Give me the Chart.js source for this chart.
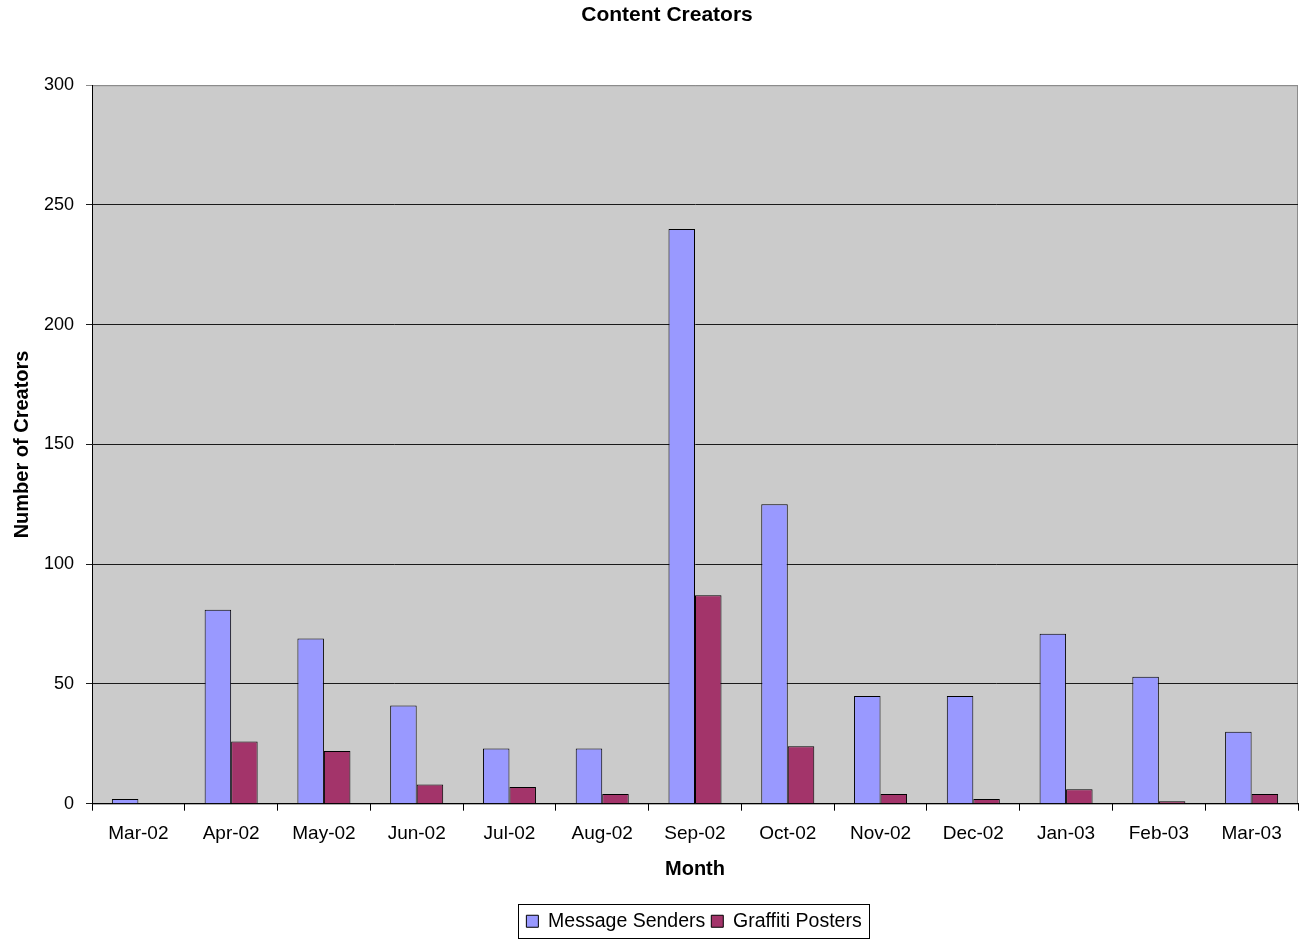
<!DOCTYPE html>
<html>
<head>
<meta charset="utf-8">
<script src="https://cdn.jsdelivr.net/npm/chart.js@4/dist/chart.umd.min.js"></script>
<style>
  html, body { margin: 0; padding: 0; background: #fff; }
  #wrap { width: 1301px; height: 939px; }
</style>
</head>
<body>
<div id="wrap"><canvas id="chart" width="1301" height="939"></canvas></div>
<script>
const months = ['Mar-02', 'Apr-02', 'May-02', 'Jun-02', 'Jul-02', 'Aug-02', 'Sep-02',
                'Oct-02', 'Nov-02', 'Dec-02', 'Jan-03', 'Feb-03', 'Mar-03'];
const messageSenders = [2, 81, 69, 41, 23, 23, 240, 125, 45, 45, 71, 53, 30];
const graffitiPosters = [0, 26, 22, 8, 7, 4, 87, 24, 4, 2, 6, 1, 4];
const yTicks = [0, 50, 100, 150, 200, 250, 300];

const FONT = "'Liberation Sans', Arial, sans-serif";

// fond gris de la zone de tracé + bordure
const plotArea = {
  id: 'plotArea',
  beforeDraw(chart) {
    const a = chart.chartArea, ctx = chart.ctx;
    ctx.save();
    ctx.fillStyle = '#cbcbcb';
    ctx.fillRect(a.left, a.top, a.right - a.left, a.bottom - a.top);
    ctx.strokeStyle = '#8c8c8c';
    ctx.lineWidth = 1;
    ctx.strokeRect(a.left + 0.5, a.top + 0.5, a.right - a.left - 1, a.bottom - a.top);
    ctx.restore();
  }
};

// titre et légende centrés sur la zone de tracé (comme Excel)
const recenter = {
  id: 'recenter',
  afterLayout(chart) {
    if (chart.titleBlock) chart.titleBlock.left += 36;
    if (chart.legend) {
      chart.legend.left += 90;
      chart.legend.top += 2;
      chart.legend.bottom += 2;
    }
  }
};

// cadre autour de la légende
const legendBox = {
  id: 'legendBox',
  afterDraw(chart) {
    const boxes = chart.legend.legendHitBoxes;
    if (!boxes || !boxes.length) return;
    let l = Infinity, r = -Infinity, t = Infinity, b = -Infinity;
    boxes.forEach(h => {
      l = Math.min(l, h.left); r = Math.max(r, h.left + h.width);
      t = Math.min(t, h.top); b = Math.max(b, h.top + h.height);
    });
    const ctx = chart.ctx;
    ctx.save();
    ctx.strokeStyle = '#000';
    ctx.lineWidth = 1;
    ctx.strokeRect(Math.round(l - 8) + 0.5, Math.round(t - 8) + 0.5, Math.round(r - l + 16), Math.round(b - t + 14));
    ctx.restore();
  }
};

new Chart(document.getElementById('chart'), {
  type: 'bar',
  data: {
    labels: months,
    datasets: [
      {
        label: 'Message Senders',
        data: messageSenders,
        backgroundColor: '#9999ff',
        borderColor: '#000',
        borderWidth: 1
      },
      {
        label: 'Graffiti Posters',
        data: graffitiPosters,
        backgroundColor: '#a3346a',
        borderColor: '#000',
        borderWidth: 1
      }
    ]
  },
  plugins: [plotArea, recenter, legendBox],
  options: {
    responsive: false,
    animation: false,
    devicePixelRatio: 1,
    datasets: {
      bar: { categoryPercentage: 2 / 3.5, barPercentage: 1 }
    },
    layout: { padding: { left: 0, right: 3, top: 0, bottom: 0 } },
    plugins: {
      title: {
        display: true,
        text: 'Content Creators',
        color: '#000',
        font: { family: FONT, size: 21, weight: 'bold' },
        padding: { top: 3, bottom: 57 }
      },
      legend: {
        position: 'bottom',
        labels: {
          color: '#000',
          font: { family: FONT, size: 19.5 },
          boxWidth: 12,
          boxHeight: 12,
          padding: 6
        }
      },
      tooltip: { enabled: false }
    },
    scales: {
      x: {
        grid: {
          display: true,
          drawOnChartArea: false,
          offset: true,
          color: '#000',
          tickLength: 7
        },
        border: { color: '#000', width: 1 },
        ticks: {
          color: '#000',
          font: { family: FONT, size: 19 },
          maxRotation: 0,
          padding: 12
        },
        title: {
          display: true,
          text: 'Month',
          color: '#000',
          font: { family: FONT, size: 20, weight: 'bold' },
          padding: { top: 0, bottom: 22 }
        }
      },
      y: {
        min: 0,
        max: 300,
        afterBuildTicks: scale => { scale.ticks = yTicks.map(v => ({ value: v })); },
        afterFit: scale => { scale.width = 92; },
        grid: {
          color: ctx => (ctx.tick && ctx.tick.value === 300 ? '#8c8c8c' : '#1a1a1a'),
          lineWidth: 1,
          tickLength: 6
        },
        border: { color: '#000', width: 1 },
        ticks: {
          color: '#000',
          font: { family: FONT, size: 18 },
          padding: 12
        },
        title: {
          display: true,
          text: 'Number of Creators',
          color: '#000',
          font: { family: FONT, size: 20, weight: 'bold' },
          padding: { top: 10, bottom: 4 }
        }
      }
    }
  }
});
</script>
</body>
</html>
